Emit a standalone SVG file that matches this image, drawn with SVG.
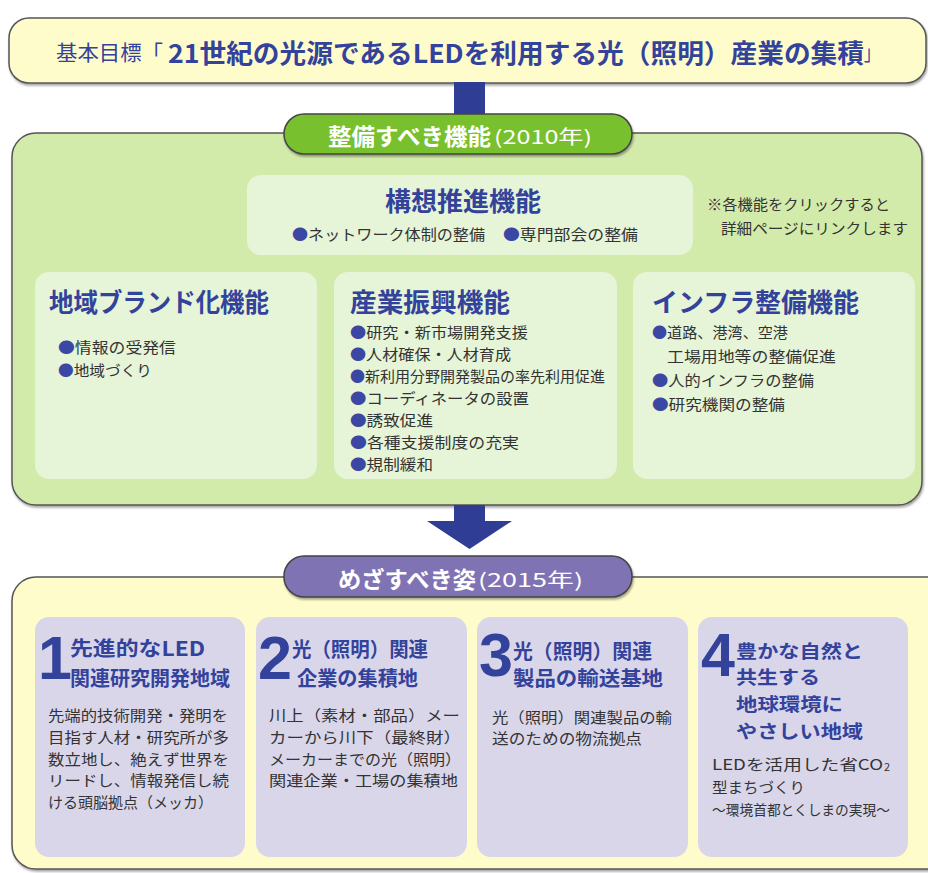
<svg xmlns="http://www.w3.org/2000/svg" width="928" height="873" viewBox="0 0 928 873">
<defs>
<filter id="sh" x="-5%" y="-5%" width="110%" height="115%">
<feDropShadow dx="1" dy="2" stdDeviation="1.2" flood-color="#000" flood-opacity="0.35"/>
</filter>
<style>
text{font-family:"Noto Sans CJK JP","Noto Sans CJK SC",sans-serif;dominant-baseline:central}
.panel{stroke:#555;stroke-width:1.5}
.goal{fill:#fffccc}
.green{fill:#d3ebaa}
.yellow{fill:#fffccc}
.gin{fill:#e6f4d7}
.pin{fill:#d9d6ea}
.pill{stroke:#444;stroke-width:1.5}
.hb{fill:#33429b;font-weight:700}
.pw{fill:#fff}
.body{fill:#333;font-size:15px}
.bl{fill:#3a47a3}
.num{font-family:"Liberation Sans",Arial,sans-serif;font-weight:700;font-size:61px;fill:#33429b;dominant-baseline:auto}
.arrow{fill:#2f3d95}
</style>
</defs>

<!-- panels -->
<g id="node-goal">
<rect class="panel goal" x="9" y="18" width="917" height="65" rx="20" filter="url(#sh)"/>
<text x="56" y="51" font-size="21" fill="#33429b" textLength="107" lengthAdjust="spacingAndGlyphs">基本目標「</text>
<text class="hb" x="168" y="51" font-size="26" textLength="696" lengthAdjust="spacingAndGlyphs">21世紀の光源であるLEDを利用する光（照明）産業の集積</text>
<text x="864" y="51" font-size="21" fill="#33429b" textLength="16" lengthAdjust="spacingAndGlyphs">」</text>
</g>

<g id="node-functions-panel">
<rect class="panel green" x="12" y="133" width="910" height="372" rx="24" filter="url(#sh)"/>
</g>

<g id="node-vision-panel">
<rect class="panel yellow" x="12" y="577" width="940" height="292" rx="24" filter="url(#sh)"/>
</g>

<!-- connectors -->
<g id="connectors">
<rect class="arrow" x="454" y="82" width="31" height="34"/>
<path class="arrow" d="M454,505 H485 V521 H512 L469.5,549 L427,521 H454 Z"/>
</g>

<g id="node-functions-label">
<rect class="pill" x="284" y="114" width="348" height="40" rx="20" fill="#78c02f" filter="url(#sh)"/>
<text class="pw" x="328" y="135" font-size="23" font-weight="700" textLength="163" lengthAdjust="spacingAndGlyphs">整備すべき機能</text>
<text class="pw" x="494" y="135" font-size="19" textLength="98" lengthAdjust="spacingAndGlyphs">(2010年)</text>
</g>

<g id="node-kousou">
<rect class="gin" x="247" y="175" width="446" height="80" rx="14"/>
<text class="hb" x="385" y="199" font-size="26" textLength="156" lengthAdjust="spacingAndGlyphs">構想推進機能</text>
<text class="body" x="292" y="233" textLength="193" lengthAdjust="spacingAndGlyphs"><tspan class="bl">●</tspan>ネットワーク体制の整備</text>
<text class="body" x="503" y="233" textLength="135" lengthAdjust="spacingAndGlyphs"><tspan class="bl">●</tspan>専門部会の整備</text>
</g>

<g id="note">
<text x="707" y="203" font-size="15" fill="#333" textLength="183" lengthAdjust="spacingAndGlyphs">※各機能をクリックすると</text>
<text x="721" y="227" font-size="15" fill="#333" textLength="187" lengthAdjust="spacingAndGlyphs">詳細ページにリンクします</text>
</g>

<g id="node-chiiki">
<rect class="gin" x="35" y="272" width="282" height="207" rx="14"/>
<text class="hb" x="49" y="300" font-size="26" textLength="220" lengthAdjust="spacingAndGlyphs">地域ブランド化機能</text>
<text class="body" x="58" y="346" textLength="118" lengthAdjust="spacingAndGlyphs"><tspan class="bl">●</tspan>情報の受発信</text>
<text class="body" x="58" y="369" textLength="94" lengthAdjust="spacingAndGlyphs"><tspan class="bl">●</tspan>地域づくり</text>
</g>

<g id="node-sangyo">
<rect class="gin" x="334" y="272" width="283" height="207" rx="14"/>
<text class="hb" x="350" y="300" font-size="26" textLength="160" lengthAdjust="spacingAndGlyphs">産業振興機能</text>
<text class="body" x="350" y="331" textLength="178" lengthAdjust="spacingAndGlyphs"><tspan class="bl">●</tspan>研究・新市場開発支援</text>
<text class="body" x="350" y="353" textLength="161" lengthAdjust="spacingAndGlyphs"><tspan class="bl">●</tspan>人材確保・人材育成</text>
<text class="body" x="350" y="375" textLength="255" lengthAdjust="spacingAndGlyphs"><tspan class="bl">●</tspan>新利用分野開発製品の率先利用促進</text>
<text class="body" x="350" y="397" textLength="179" lengthAdjust="spacingAndGlyphs"><tspan class="bl">●</tspan>コーディネータの設置</text>
<text class="body" x="350" y="419" textLength="83" lengthAdjust="spacingAndGlyphs"><tspan class="bl">●</tspan>誘致促進</text>
<text class="body" x="350" y="441" textLength="169" lengthAdjust="spacingAndGlyphs"><tspan class="bl">●</tspan>各種支援制度の充実</text>
<text class="body" x="350" y="463" textLength="83" lengthAdjust="spacingAndGlyphs"><tspan class="bl">●</tspan>規制緩和</text>
</g>

<g id="node-infra">
<rect class="gin" x="633" y="272" width="282" height="207" rx="14"/>
<text class="hb" x="652" y="300" font-size="26" textLength="207" lengthAdjust="spacingAndGlyphs">インフラ整備機能</text>
<text class="body" x="652" y="331" textLength="136" lengthAdjust="spacingAndGlyphs"><tspan class="bl">●</tspan>道路、港湾、空港</text>
<text class="body" x="667" y="355" textLength="169" lengthAdjust="spacingAndGlyphs">工場用地等の整備促進</text>
<text class="body" x="652" y="379" textLength="162" lengthAdjust="spacingAndGlyphs"><tspan class="bl">●</tspan>人的インフラの整備</text>
<text class="body" x="652" y="403" textLength="133" lengthAdjust="spacingAndGlyphs"><tspan class="bl">●</tspan>研究機関の整備</text>
</g>

<g id="node-mezasu-label">
<rect class="pill" x="284" y="556" width="348" height="41" rx="20" fill="#8073b4" filter="url(#sh)"/>
<text class="pw" x="338" y="578" font-size="23" font-weight="700" textLength="138" lengthAdjust="spacingAndGlyphs">めざすべき姿</text>
<text class="pw" x="478" y="578" font-size="19" textLength="105" lengthAdjust="spacingAndGlyphs">(2015年)</text>
</g>

<g id="node-v1">
<rect class="pin" x="35" y="617" width="210" height="240" rx="14"/>
<text class="num" x="38" y="679">1</text>
<text class="hb" x="70" y="647" font-size="20" textLength="135" lengthAdjust="spacingAndGlyphs">先進的なLED</text>
<text class="hb" x="70" y="677" font-size="20" textLength="160" lengthAdjust="spacingAndGlyphs">関連研究開発地域</text>
<text class="body" x="48" y="714" textLength="180" lengthAdjust="spacingAndGlyphs">先端的技術開発・発明を</text>
<text class="body" x="48" y="736" textLength="181" lengthAdjust="spacingAndGlyphs">目指す人材・研究所が多</text>
<text class="body" x="48" y="758" textLength="181" lengthAdjust="spacingAndGlyphs">数立地し、絶えず世界を</text>
<text class="body" x="48" y="779" textLength="181" lengthAdjust="spacingAndGlyphs">リードし、情報発信し続</text>
<text class="body" x="48" y="801" textLength="165" lengthAdjust="spacingAndGlyphs">ける頭脳拠点（メッカ）</text>
</g>

<g id="node-v2">
<rect class="pin" x="256" y="617" width="211" height="240" rx="14"/>
<text class="num" x="258" y="679">2</text>
<text class="hb" x="292" y="648" font-size="20" textLength="136" lengthAdjust="spacingAndGlyphs">光（照明）関連</text>
<text class="hb" x="297" y="677" font-size="20" textLength="121" lengthAdjust="spacingAndGlyphs">企業の集積地</text>
<text class="body" x="269" y="714" textLength="191" lengthAdjust="spacingAndGlyphs">川上（素材・部品）メー</text>
<text class="body" x="269" y="736" textLength="192" lengthAdjust="spacingAndGlyphs">カーから川下（最終財）</text>
<text class="body" x="269" y="758" textLength="192" lengthAdjust="spacingAndGlyphs">メーカーまでの光（照明）</text>
<text class="body" x="269" y="779" textLength="189" lengthAdjust="spacingAndGlyphs">関連企業・工場の集積地</text>
</g>

<g id="node-v3">
<rect class="pin" x="477" y="617" width="211" height="240" rx="14"/>
<text class="num" x="479" y="676">3</text>
<text class="hb" x="513" y="650" font-size="20" textLength="139" lengthAdjust="spacingAndGlyphs">光（照明）関連</text>
<text class="hb" x="513" y="677" font-size="20" textLength="150" lengthAdjust="spacingAndGlyphs">製品の輸送基地</text>
<text class="body" x="492" y="716" textLength="180" lengthAdjust="spacingAndGlyphs">光（照明）関連製品の輸</text>
<text class="body" x="492" y="737" textLength="150" lengthAdjust="spacingAndGlyphs">送のための物流拠点</text>
</g>

<g id="node-v4">
<rect class="pin" x="698" y="617" width="210" height="240" rx="14"/>
<text class="num" x="701" y="676">4</text>
<text class="hb" x="736" y="650" font-size="18.5" textLength="127" lengthAdjust="spacingAndGlyphs">豊かな自然と</text>
<text class="hb" x="736" y="676" font-size="18.5" textLength="84" lengthAdjust="spacingAndGlyphs">共生する</text>
<text class="hb" x="736" y="703" font-size="18.5" textLength="107" lengthAdjust="spacingAndGlyphs">地球環境に</text>
<text class="hb" x="736" y="730" font-size="18.5" textLength="127" lengthAdjust="spacingAndGlyphs">やさしい地域</text>
<text class="body" x="712" y="763" textLength="171" lengthAdjust="spacingAndGlyphs">LEDを活用した省CO</text>
<text class="body" x="884" y="766" style="font-size:11px">2</text>
<text class="body" x="712" y="786" textLength="93" lengthAdjust="spacingAndGlyphs">型まちづくり</text>
<text class="body" x="712" y="809" style="font-size:14px" textLength="178" lengthAdjust="spacingAndGlyphs">～環境首都とくしまの実現～</text>
</g>
</svg>
